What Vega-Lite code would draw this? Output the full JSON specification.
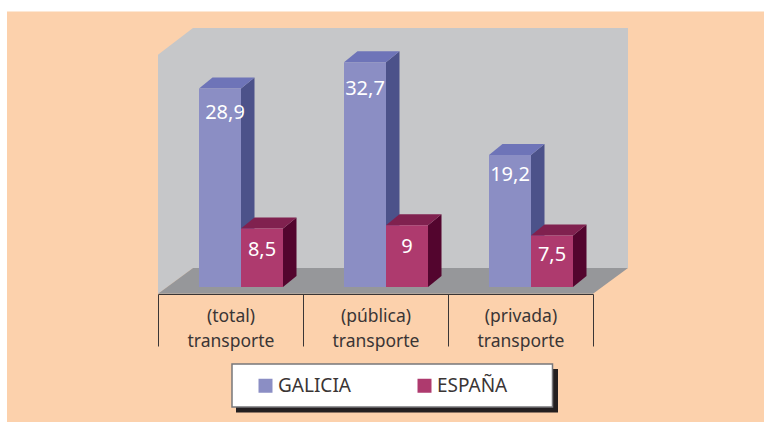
{
 "$schema":"https://vega.github.io/schema/vega-lite/v6.json",
 "width":764,"height":422,
 "autosize":{"type":"fit","contains":"padding"},
 "padding":0,
 "background":"#ffffff",
 "config":{"view":{"stroke":null},"font":"Noto Sans"},
 "datasets":{
  "datos":[
   {"categoria":"(total) transporte","serie":"GALICIA","valor":28.9},
   {"categoria":"(total) transporte","serie":"ESPAÑA","valor":8.5},
   {"categoria":"(pública) transporte","serie":"GALICIA","valor":32.7},
   {"categoria":"(pública) transporte","serie":"ESPAÑA","valor":9},
   {"categoria":"(privada) transporte","serie":"GALICIA","valor":19.2},
   {"categoria":"(privada) transporte","serie":"ESPAÑA","valor":7.5}
  ],
  "fondo":[{"profundidad":0},{"profundidad":1}],
  "marco":[{"elemento":"marco"}]
 },
 "resolve":{"scale":{"x":"independent"}},
 "layer":[
  {
   "encoding":{
    "x":{"type":"quantitative","scale":{"domain":[-1.0897,4.1793],"nice":false,"zero":false},"axis":null},
    "y":{"type":"quantitative","scale":{"domain":[-19.651,41.776],"nice":false,"zero":false},"axis":null}
   },
   "layer":[
    {"data":{"name":"marco"},"mark":{"type":"rect","fill":"#fcd1ac"},
     "encoding":{"x":{"datum":-1.0414,"type":"quantitative"},"x2":{"datum":4.1793},"y":{"datum":40.1,"type":"quantitative"},"y2":{"datum":-19.651}}},
    {"data":{"name":"marco"},"mark":{"type":"rect","fill":"#c6c7c9"},
     "encoding":{"x":{"datum":0.2414,"type":"quantitative"},"x2":{"datum":3.2414},"y":{"datum":37.7,"type":"quantitative"},"y2":{"datum":2.77}}},
    {"data":{"name":"fondo"},
     "transform":[{"calculate":"datum.profundidad*0.2414","as":"px"},{"calculate":"33.8+datum.profundidad*3.9","as":"py"},{"calculate":"-1+datum.profundidad*3.77","as":"py2"}],
     "mark":{"type":"area","fill":"#c6c7c9"},
     "encoding":{"x":{"field":"px","type":"quantitative"},"y":{"field":"py","type":"quantitative"},"y2":{"field":"py2"}}},
    {"data":{"name":"fondo"},
     "transform":[{"calculate":"datum.profundidad*0.2414","as":"px"},{"calculate":"3+datum.profundidad*0.2414","as":"px2"},{"calculate":"-1+datum.profundidad*3.77","as":"py"}],
     "mark":{"type":"area","orient":"horizontal","fill":"#96979a"},
     "encoding":{"y":{"field":"py","type":"quantitative"},"x":{"field":"px","type":"quantitative"},"x2":{"field":"px2"}}},
    {"data":{"name":"datos"},
     "transform":[
      {"filter":"datum.serie=='GALICIA'"},
      {"calculate":"0","as":"f0"},{"calculate":"1","as":"f1"},
      {"fold":["f0","f1"],"as":["borde","p"]},
      {"calculate":"indexof(['(total) transporte','(pública) transporte','(privada) transporte'],datum.categoria)+0.5724+datum.p*0.0931","as":"px"},
      {"calculate":"datum.valor+datum.p*1.6","as":"py"},
      {"calculate":"datum.p*1.6","as":"py2"}],
     "mark":{"type":"area","fill":"#4c528a"},
     "encoding":{
      "x":{"field":"px","type":"quantitative"},"y":{"field":"py","type":"quantitative"},"y2":{"field":"py2"},
      "detail":{"field":"categoria"}}},
    {"data":{"name":"datos"},
     "transform":[
      {"filter":"datum.serie=='GALICIA'"},
      {"calculate":"0","as":"f0"},{"calculate":"1","as":"f1"},
      {"fold":["f0","f1"],"as":["borde","p"]},
      {"calculate":"indexof(['(total) transporte','(pública) transporte','(privada) transporte'],datum.categoria)+0.2828+datum.p*0.0931","as":"px"},
      {"calculate":"datum.px+0.2897","as":"px2"},
      {"calculate":"datum.valor+datum.p*1.6","as":"py"}],
     "mark":{"type":"area","orient":"horizontal","fill":"#6e74b8"},
     "encoding":{
      "y":{"field":"py","type":"quantitative"},"x":{"field":"px","type":"quantitative"},"x2":{"field":"px2"},
      "detail":{"field":"categoria"}}},
    {"data":{"name":"datos"},
     "transform":[
      {"filter":"datum.serie=='ESPAÑA'"},
      {"calculate":"0","as":"f0"},{"calculate":"1","as":"f1"},
      {"fold":["f0","f1"],"as":["borde","p"]},
      {"calculate":"indexof(['(total) transporte','(pública) transporte','(privada) transporte'],datum.categoria)+0.8621+datum.p*0.0931","as":"px"},
      {"calculate":"datum.valor+datum.p*1.6","as":"py"},
      {"calculate":"datum.p*1.6","as":"py2"}],
     "mark":{"type":"area","fill":"#53052e"},
     "encoding":{
      "x":{"field":"px","type":"quantitative"},"y":{"field":"py","type":"quantitative"},"y2":{"field":"py2"},
      "detail":{"field":"categoria"}}},
    {"data":{"name":"datos"},
     "transform":[
      {"filter":"datum.serie=='ESPAÑA'"},
      {"calculate":"0","as":"f0"},{"calculate":"1","as":"f1"},
      {"fold":["f0","f1"],"as":["borde","p"]},
      {"calculate":"indexof(['(total) transporte','(pública) transporte','(privada) transporte'],datum.categoria)+0.5724+datum.p*0.0931","as":"px"},
      {"calculate":"datum.px+0.2897","as":"px2"},
      {"calculate":"datum.valor+datum.p*1.6","as":"py"}],
     "mark":{"type":"area","orient":"horizontal","fill":"#80214f"},
     "encoding":{
      "y":{"field":"py","type":"quantitative"},"x":{"field":"px","type":"quantitative"},"x2":{"field":"px2"},
      "detail":{"field":"categoria"}}},
    {"data":{"name":"marco"},"mark":{"type":"rect","fill":"#231f20"},
     "encoding":{"x":{"datum":0.5379,"type":"quantitative"},"x2":{"datum":2.7586},"y":{"datum":-11.94,"type":"quantitative"},"y2":{"datum":-18.27}}},
    {"data":{"name":"marco"},"mark":{"type":"rect","fill":"#ffffff","stroke":"#77777a","strokeWidth":1.5},
     "encoding":{"x":{"datum":0.5103,"type":"quantitative"},"x2":{"datum":2.7207},"y":{"datum":-11.21,"type":"quantitative"},"y2":{"datum":-17.47}}}
   ]
  },
  {
   "data":{"name":"datos"},
   "transform":[
    {"calculate":"replace(toString(datum.valor),'.',',')","as":"etiqueta"},
    {"calculate":"datum.valor-({'28,9':25,'32,7':27,'8,5':21,'9':22,'19,2':20,'7,5':20})[datum.etiqueta]/6.87","as":"yEtiqueta"}
   ],
   "encoding":{
    "x":{"field":"categoria","type":"nominal","title":null,
     "scale":{"domain":["(total) transporte","(pública) transporte","(privada) transporte"],"range":[158,593],"paddingInner":0,"paddingOuter":0},
     "axis":{"orient":"bottom","offset":-128,"zindex":1,"domainColor":"#3a3535","domainWidth":1,"tickColor":"#3a3535","tickWidth":1,"tickSize":52,"tickBand":"extent",
      "labelAngle":0,"labelPadding":-39,"labelFontSize":17.5,"labelColor":"#3a3535","labelLineHeight":25,"labelFont":"Noto Sans","labelBaseline":"top",
      "labelExpr":"split(datum.label,' ')","grid":false}},
    "xOffset":{"field":"serie","type":"nominal","scale":{"domain":["GALICIA","ESPAÑA"],"range":[41,125],"paddingInner":0,"paddingOuter":0}},
    "y":{"field":"valor","type":"quantitative","scale":{"domain":[-19.651,41.776],"nice":false,"zero":false},"axis":null}
   },
   "layer":[
    {"mark":{"type":"bar"},
     "encoding":{
      "y2":{"datum":0},
      "color":{"field":"serie","type":"nominal","scale":{"domain":["GALICIA","ESPAÑA"],"range":["#8b8ec4","#ae3a6e"]},
       "legend":{"title":null,"orient":"none","legendX":256,"legendY":376,"direction":"horizontal","columns":2,"gridAlign":"all","columnPadding":64,"symbolType":"square","symbolSize":196,"symbolStrokeWidth":0,"labelFontSize":19,"labelColor":"#3a3535","labelFont":"Noto Sans","labelOffset":3,"padding":0,"zindex":1}}}},
    {"mark":{"type":"text","color":"#ffffff","fontSize":20,"font":"Noto Sans","baseline":"middle"},
     "transform":[{"filter":"datum.etiqueta!='28,9'"}],
     "encoding":{"y":{"field":"yEtiqueta","type":"quantitative"},"text":{"field":"etiqueta"}}},
    {"mark":{"type":"text","color":"#ffffff","fontSize":20,"font":"Noto Sans","baseline":"middle","dx":5},
     "transform":[{"filter":"datum.etiqueta=='28,9'"}],
     "encoding":{"y":{"field":"yEtiqueta","type":"quantitative"},"text":{"field":"etiqueta"}}}
   ]
  }
 ]
}
